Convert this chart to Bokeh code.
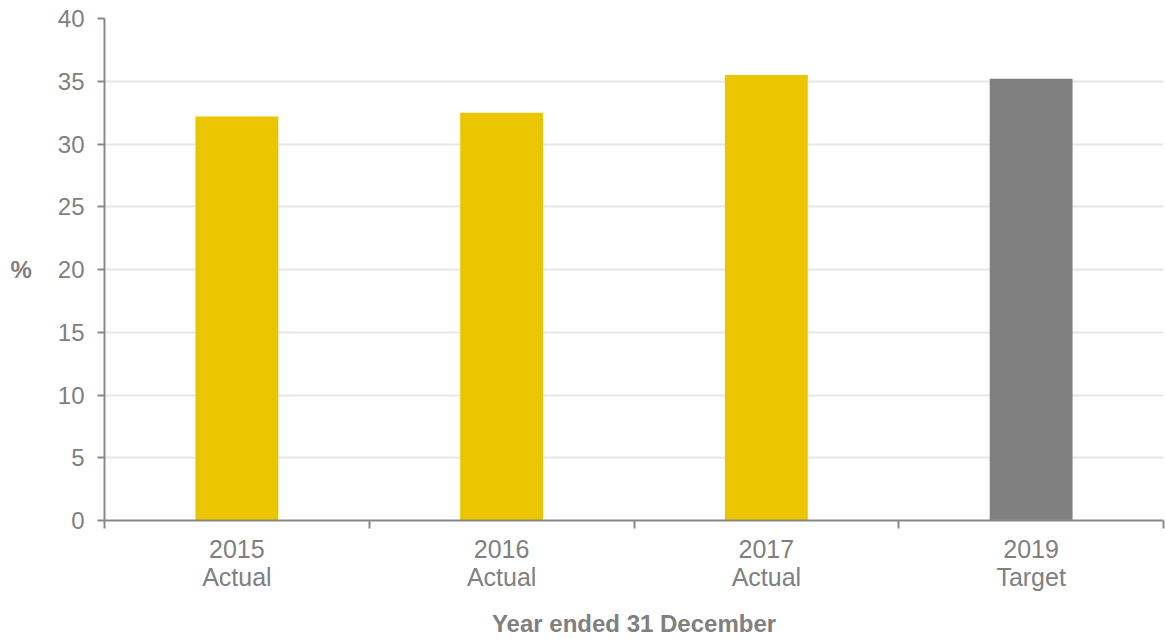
from bokeh.plotting import figure
from bokeh.models import FixedTicker, Range1d, ColumnDataSource
from bokeh.embed import file_html
from bokeh.resources import INLINE

categories = ["2015\nActual", "2016\nActual", "2017\nActual", "2019\nTarget"]
values = [32.2, 32.5, 35.5, 35.2]
bar_colors = ["#EBC600", "#EBC600", "#EBC600", "#808080"]
y_ticks = [0, 5, 10, 15, 20, 25, 30, 35, 40]
y_label = "%"
x_title = "Year ended 31 December"

FONT = "Liberation Sans"
TEXT_COLOR = "#808080"
AXIS_COLOR = "#898989"

positions = [i + 0.5 for i in range(len(categories))]
boundaries = [float(i) for i in range(len(categories) + 1)]
src = ColumnDataSource(dict(x=positions, top=values, color=bar_colors))

p = figure(width=1165, height=639, output_backend="svg", toolbar_location=None,
           x_range=Range1d(0, len(categories)), y_range=Range1d(0, 40),
           min_border_left=104, min_border_right=2, min_border_top=18,
           min_border_bottom=118)
p.outline_line_color = None
p.background_fill_color = "white"
p.border_fill_color = "white"

p.vbar(x="x", top="top", width=0.313, bottom=0, fill_color="color",
       line_color=None, source=src)

# x axis
xa = p.xaxis[0]
xa.ticker = FixedTicker(ticks=positions, minor_ticks=boundaries)
xa.major_label_overrides = {pos: cat for pos, cat in zip(positions, categories)}
xa.major_tick_out = 0
xa.major_tick_in = 0
xa.minor_tick_out = 8
xa.minor_tick_in = 0
xa.minor_tick_line_color = AXIS_COLOR
xa.minor_tick_line_width = 2
xa.axis_line_color = AXIS_COLOR
xa.axis_line_width = 2
xa.major_label_text_font = FONT
xa.major_label_text_font_size = "25px"
xa.major_label_text_color = TEXT_COLOR
xa.major_label_standoff = 6
xa.major_label_text_line_height = 1.0
xa.axis_label = x_title
xa.axis_label_text_font = FONT
xa.axis_label_text_font_style = "bold"
xa.axis_label_text_font_size = "24px"
xa.axis_label_text_color = TEXT_COLOR
xa.axis_label_text_line_height = 1.0
xa.axis_label_standoff = 16

# y axis
ya = p.yaxis[0]
ya.ticker = FixedTicker(ticks=y_ticks, minor_ticks=[])
ya.major_tick_out = 7
ya.major_tick_in = 0
ya.major_tick_line_color = AXIS_COLOR
ya.major_tick_line_width = 2
ya.axis_line_color = AXIS_COLOR
ya.axis_line_width = 2
ya.major_label_text_font = FONT
ya.major_label_text_font_size = "24px"
ya.major_label_text_color = TEXT_COLOR
ya.major_label_standoff = 13
ya.axis_label = y_label
ya.axis_label_orientation = "horizontal"
ya.axis_label_text_font = FONT
ya.axis_label_text_font_style = "bold"
ya.axis_label_text_font_size = "24px"
ya.axis_label_text_color = TEXT_COLOR
ya.axis_label_standoff = 23

p.xgrid.visible = False
p.ygrid.ticker = FixedTicker(ticks=y_ticks[1:])
p.ygrid.grid_line_color = "#E6E6E6"
p.ygrid.grid_line_width = 2

open("out.html", "w").write(file_html(p, INLINE))
